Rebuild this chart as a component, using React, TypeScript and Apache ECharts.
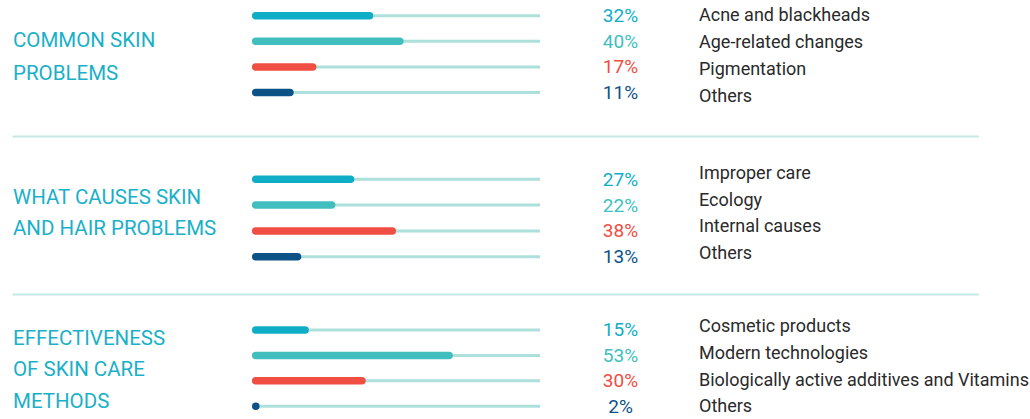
import React, { useEffect, useRef } from "react";
import * as echarts from "echarts";

// ---------- data ----------
const sectionTitles = [
  "COMMON SKIN\nPROBLEMS",
  "WHAT CAUSES SKIN\nAND HAIR PROBLEMS",
  "EFFECTIVENESS\nOF SKIN CARE\nMETHODS",
];

const problemsCategories = ["Acne and blackheads", "Age-related changes", "Pigmentation", "Others"];
const problemsValues = [32, 40, 17, 11];

const causesCategories = ["Improper care", "Ecology", "Internal causes", "Others"];
const causesValues = [27, 22, 38, 13];

const methodsCategories = [
  "Cosmetic products",
  "Modern technologies",
  "Biologically active additives and Vitamins",
  "Others",
];
const methodsValues = [15, 53, 30, 2];

const rowColors = ["#10aec6", "#40bfbe", "#f04d43", "#0d5287"];
const AXIS_MAX = 76;

// ---------- layout ----------
const barGrids = [
  { top: 2.9, height: 102.4 },
  { top: 166.4, height: 103.2 },
  { top: 317.2, height: 102.3 },
];
const labelGrids = [
  { top: 1.6, height: 107 },
  { top: 158.7, height: 107.5 },
  { top: 312.6, height: 109 },
];
const titleLayout = [
  { top: 24, lineHeight: 32.7 },
  { top: 181.3, lineHeight: 31.3 },
  { top: 321.7, lineHeight: 31.75 },
];

const TITLE_COLOR = "#1ab0c8";
const TRACK_COLOR = "#ade0db";
const SEP_COLOR = "#c6e9e6";
const LABEL_COLOR = "#2a2a2a";
const FONT = "Roboto, 'Noto Sans', sans-serif";

const sections = [
  { cats: problemsCategories, vals: problemsValues },
  { cats: causesCategories, vals: causesValues },
  { cats: methodsCategories, vals: methodsValues },
];

function buildOption() {
  const grid: any[] = [];
  const xAxis: any[] = [];
  const yAxis: any[] = [];
  const series: any[] = [];
  const hiddenAxis = {
    axisLine: { show: false },
    axisTick: { show: false },
    splitLine: { show: false },
  };

  sections.forEach((sec, i) => {
    // bar grid
    const g = grid.length;
    grid.push({ left: 252, width: 288, top: barGrids[i].top, height: barGrids[i].height });
    const xi = xAxis.length;
    xAxis.push({ type: "value", gridIndex: g, min: 0, max: AXIS_MAX, show: false, ...hiddenAxis });
    const yTrack = yAxis.length;
    yAxis.push({
      type: "category",
      gridIndex: g,
      inverse: true,
      data: sec.cats,
      axisLabel: { show: false },
      ...hiddenAxis,
    });
    const yFill = yAxis.length;
    yAxis.push({
      type: "category",
      gridIndex: g,
      inverse: true,
      position: "right",
      data: sec.vals.map((v) => v + "%"),
      axisLabel: {
        show: true,
        margin: 80.5,
        align: "center",
        fontFamily: FONT,
        fontSize: 19,
        color: (_v: any, idx: number) => rowColors[idx],
      },
      ...hiddenAxis,
    });
    series.push({
      type: "bar",
      xAxisIndex: xi,
      yAxisIndex: yTrack,
      barWidth: 3,
      silent: true,
      itemStyle: { color: TRACK_COLOR },
      data: sec.cats.map(() => AXIS_MAX),
      z: 1,
    });
    series.push({
      type: "bar",
      xAxisIndex: xi,
      yAxisIndex: yFill,
      barWidth: 7.5,
      z: 2,
      data: sec.vals.map((v, k) => ({
        value: v,
        itemStyle: { color: rowColors[k], borderRadius: 3.75 },
      })),
    });

    // label grid
    const g2 = grid.length;
    grid.push({ left: 699, right: 2, top: labelGrids[i].top, height: labelGrids[i].height });
    const xi2 = xAxis.length;
    xAxis.push({ type: "value", gridIndex: g2, min: 0, max: 1, show: false, ...hiddenAxis });
    const yl = yAxis.length;
    yAxis.push({
      type: "category",
      gridIndex: g2,
      inverse: true,
      position: "left",
      data: sec.cats,
      axisLabel: {
        show: true,
        margin: 0,
        align: "left",
        fontFamily: FONT,
        fontSize: 18,
        color: LABEL_COLOR,
      },
      ...hiddenAxis,
    });
    series.push({
      type: "bar",
      xAxisIndex: xi2,
      yAxisIndex: yl,
      silent: true,
      data: [],
    });
  });

  const title = sectionTitles.map((t, i) => ({
    text: t,
    left: 13,
    top: titleLayout[i].top,
    padding: 0,
    textStyle: {
      color: TITLE_COLOR,
      fontFamily: FONT,
      fontSize: 20.5,
      fontWeight: "normal",
      lineHeight: titleLayout[i].lineHeight,
    },
  }));

  const graphic = [136.5, 294.5].map((y) => ({
    type: "line",
    shape: { x1: 12.5, y1: y, x2: 979, y2: y },
    style: { stroke: SEP_COLOR, lineWidth: 2 },
    silent: true,
  }));

  return {
    animation: false,
    backgroundColor: "#ffffff",
    title,
    grid,
    xAxis,
    yAxis,
    series,
    graphic,
  };
}

export default function App() {
  const ref = useRef<HTMLDivElement>(null);
  useEffect(() => {
    document.body.style.margin = "0";
    if (!ref.current) return;
    const chart = echarts.init(ref.current, undefined, { renderer: "svg" });
    chart.setOption(buildOption() as any);
    return () => chart.dispose();
  }, []);
  return <div ref={ref} style={{ width: 1030, height: 419 }} />;
}
